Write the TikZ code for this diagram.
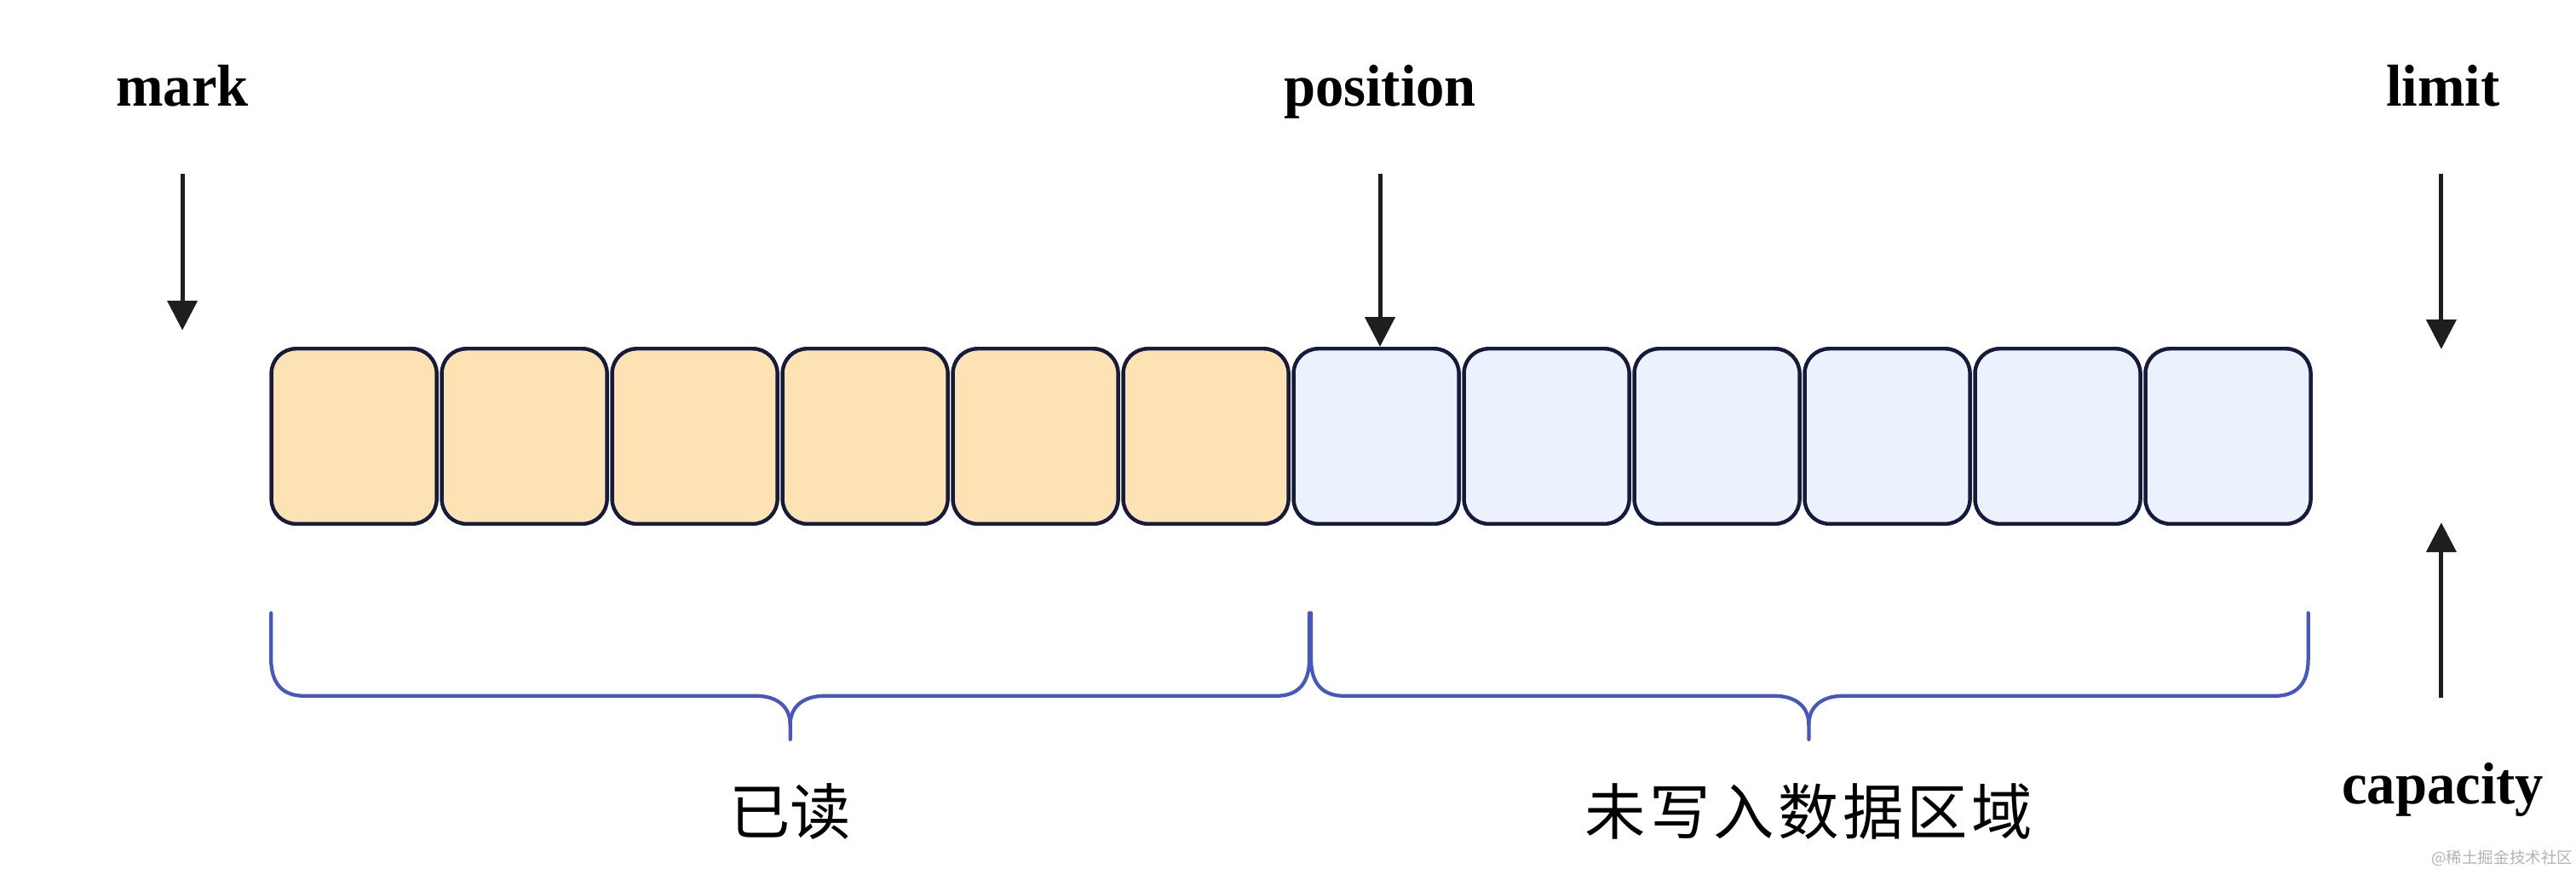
\documentclass[tikz,border=0pt]{standalone}
\usepackage{fontspec}
\setmainfont{Liberation Serif}
\newfontfamily\cjk{Noto Sans CJK SC}
\newfontfamily\cjkwide[LetterSpace=6]{Noto Sans CJK SC}
\usetikzlibrary{arrows.meta}
\definecolor{boxline}{HTML}{161A3D}
\definecolor{readfill}{HTML}{FDE2B3}
\definecolor{freefill}{HTML}{EBF2FD}
\definecolor{bracec}{HTML}{4657BE}
\definecolor{arrowc}{HTML}{1E1E1E}
\begin{document}
\begin{tikzpicture}[x=0.5pt,y=-0.5pt,
  cell/.style={draw=boxline, line width=1.15pt, rounded corners=7.5pt, minimum width=50.3pt, minimum height=53.3pt, inner sep=0pt},
  readcell/.style={cell, fill=readfill},
  freecell/.style={cell, fill=freefill},
  ptr/.style={draw=arrowc, line width=1.3pt, -{Triangle[length=9pt,width=9pt]}},
  lbl/.style={font=\fontsize{18}{20}\selectfont\bfseries, anchor=base, inner sep=0pt},
  cn/.style={font=\cjk\fontsize{18.5}{20}\selectfont, inner sep=0pt},
  bracestyle/.style={draw=bracec, line width=1.1pt, line cap=round}]
\useasboundingbox (0,0) rectangle (1568,532);
% cells
\foreach \i in {1,...,6}
  \node[readcell] (b\i) at ({215.5+(\i-1)*103.7},265.5) {};
\foreach \i in {7,...,12}
  \node[freecell] (b\i) at ({215.5+(\i-1)*103.7},265.5) {};
% labels
\node[lbl] (mark) at (111,64.3) {\scalebox{0.96}[1]{mark}};
\node[lbl] (pos) at (840,64.3) {\scalebox{0.96}[1]{position}};
\node[lbl] (limit) at (1487,64.3) {\scalebox{0.96}[1]{limit}};
\node[lbl] (cap) at (1487,489) {\scalebox{0.96}[1]{capacity}};
% pointer coordinates
\coordinate (markS) at (111,106);
\coordinate (markE) at (111,201);
\coordinate (posS) at (840,106);
\coordinate (posE) at (840,211);
\coordinate (limS) at (1486,106);
\coordinate (limE) at (1486,212.5);
\coordinate (capS) at (1486,424.5);
\coordinate (capE) at (1486,318);
\draw[ptr] (markS) -- (markE);
\draw[ptr] (posS) -- (posE);
\draw[ptr] (limS) -- (limE);
\draw[ptr] (capS) -- (capE);
% braces
\draw[bracestyle] (165,373) -- (165,401) .. controls (165,416) and (172,423.5) .. (185,423.5)
  -- (460,423.5) .. controls (473,423.5) and (481,430) .. (481,441) -- (481,450);
\draw[bracestyle] (481,441) .. controls (481,430) and (489,423.5) .. (502,423.5)
  -- (777,423.5) .. controls (790,423.5) and (797,416) .. (797,401) -- (797,373);
\draw[bracestyle] (798,373) -- (798,401) .. controls (798,416) and (805,423.5) .. (818,423.5)
  -- (1080,423.5) .. controls (1093,423.5) and (1101,430) .. (1101,441) -- (1101,450);
\draw[bracestyle] (1101,441) .. controls (1101,430) and (1109,423.5) .. (1122,423.5)
  -- (1385,423.5) .. controls (1398,423.5) and (1405,416) .. (1405,401) -- (1405,373);
% region labels
\node[cn] (readlbl) at (481,494) {已读};
\node[cn, font=\cjkwide\fontsize{18.5}{20}\selectfont] (freelbl) at (1101,494) {未写入数据区域};
% watermark
\node[font=\cjk\fontsize{4.8}{6}\selectfont, text=black!30, inner sep=0pt] (wm) at (1523,522) {@稀土掘金技术社区};
\end{tikzpicture}
\end{document}
